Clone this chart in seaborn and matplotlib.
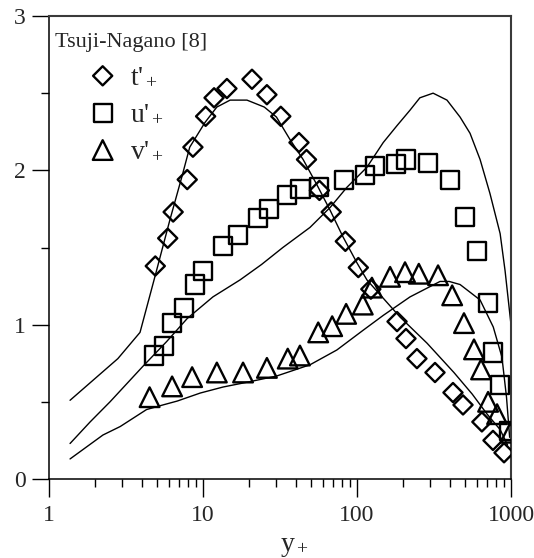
import numpy as np
import pandas as pd
import matplotlib
matplotlib.use("Agg")
import matplotlib.pyplot as plt
import matplotlib.ticker as mticker
import seaborn as sns

# Measured fluctuation intensities (Tsuji-Nagano)
t_y = [4.9, 5.9, 6.4, 7.9, 8.6, 10.4, 11.8, 14.3, 20.8, 26, 32, 42, 47, 57, 68, 84,
       102, 123, 182, 208, 245, 321, 420, 488, 647, 764, 901]
t_val = [1.38, 1.56, 1.73, 1.94, 2.15, 2.35, 2.47, 2.53, 2.59, 2.49, 2.35, 2.18, 2.07,
         1.87, 1.73, 1.54, 1.37, 1.23, 1.02, 0.91, 0.78, 0.69, 0.56, 0.48, 0.37, 0.25, 0.17]

u_y = [4.8, 5.6, 6.3, 7.5, 8.9, 10.0, 13.5, 16.9, 22.7, 26.9, 35, 43, 57, 82, 112, 131,
       178, 208, 289, 402, 503, 601, 710, 764, 850, 971]
u_val = [0.80, 0.86, 1.01, 1.11, 1.26, 1.35, 1.51, 1.58, 1.69, 1.75, 1.84, 1.88, 1.89,
         1.94, 1.97, 2.03, 2.04, 2.07, 2.05, 1.94, 1.70, 1.48, 1.14, 0.82, 0.61, 0.31]

v_y = [4.5, 6.3, 8.5, 12.3, 18.2, 26, 35.5, 42.6, 56, 69, 85, 109, 125, 164, 205, 252,
       336, 415, 495, 575, 639, 710, 812, 990]
v_val = [0.53, 0.60, 0.66, 0.69, 0.69, 0.72, 0.78, 0.80, 0.95, 0.99, 1.07, 1.13, 1.24,
         1.31, 1.34, 1.33, 1.32, 1.19, 1.01, 0.84, 0.71, 0.50, 0.42, 0.30]

# Reference curves
t_line_y = [1.37, 2.8, 3.9, 4.9, 6.1, 7.3, 8.2, 10.3, 12.3, 15, 19.3, 25, 30, 36.7, 44.7,
            55, 67, 81, 100, 116, 190, 285, 426, 560, 700, 850, 950]
t_line = [0.51, 0.78, 0.95, 1.32, 1.68, 1.96, 2.15, 2.31, 2.41, 2.455, 2.455, 2.41, 2.345,
          2.20, 2.07, 1.905, 1.74, 1.57, 1.40, 1.29, 1.05, 0.88, 0.69, 0.55, 0.42, 0.32, 0.22]

u_line_y = [1.37, 1.85, 2.49, 4.07, 5.8, 7.9, 11.6, 17.4, 24, 33, 49.5, 67, 86, 116, 148,
            182, 221, 256, 312, 384, 467, 542, 630, 730, 850, 915, 1000]
u_line = [0.23, 0.37, 0.50, 0.73, 0.89, 1.04, 1.18, 1.29, 1.39, 1.50, 1.63, 1.76, 1.89,
          2.02, 2.18, 2.29, 2.39, 2.47, 2.50, 2.455, 2.345, 2.24, 2.07, 1.85, 1.59, 1.35, 1.0]

v_line_y = [1.37, 2.24, 2.9, 4.3, 5.5, 6.8, 9.6, 13.5, 20, 30, 49.5, 74, 110, 148, 221,
            346, 397, 467, 630, 767, 873, 935, 980]
v_line = [0.13, 0.285, 0.34, 0.45, 0.48, 0.505, 0.557, 0.596, 0.63, 0.667, 0.74, 0.836,
          0.965, 1.06, 1.18, 1.28, 1.28, 1.26, 1.16, 0.985, 0.79, 0.53, 0.27]

sns.set_style("white")
plt.rcParams["font.family"] = ["Liberation Serif", "DejaVu Serif"]
plt.rcParams["mathtext.fontset"] = "custom"
plt.rcParams["mathtext.rm"] = "Liberation Serif"
plt.rcParams["mathtext.it"] = "Liberation Serif:italic"

fig = plt.figure(figsize=(5.34, 5.58), dpi=100)
ax = fig.add_axes([49 / 534, 1 - 479 / 558, (511 - 49) / 534, (479 - 16) / 558])

for xs, ys in [(t_line_y, t_line), (u_line_y, u_line), (v_line_y, v_line)]:
    sns.lineplot(x=xs, y=ys, ax=ax, color="black", linewidth=1.0,
                 sort=False, estimator=None)

marker_kw = dict(facecolor="none", edgecolor="black", linewidth=1.7, ax=ax, zorder=3)
sns.scatterplot(x=t_y, y=t_val, marker="D", s=95, label="t'$_+$", **marker_kw)
sns.scatterplot(x=u_y, y=u_val, marker="s", s=170, label="u'$_+$", **marker_kw)
sns.scatterplot(x=v_y, y=v_val, marker="^", s=200, label="v'$_+$", **marker_kw)

ax.set_xscale("log")
ax.set_xlim(1, 1000)
ax.set_ylim(0, 3)
ax.set_xticks([1, 10, 100, 1000])
ax.xaxis.set_major_formatter(mticker.FuncFormatter(lambda v, p: f"{int(round(v))}"))
ax.xaxis.set_minor_locator(mticker.LogLocator(base=10, subs=np.arange(2, 10)))
ax.xaxis.set_minor_formatter(mticker.NullFormatter())
ax.set_yticks([0, 1, 2, 3])
ax.yaxis.set_minor_locator(mticker.MultipleLocator(0.5))

ax.tick_params(axis="both", which="both", direction="out", color="black",
               width=1.0, labelsize=17, bottom=True, left=True, top=False, right=False)
ax.tick_params(axis="y", which="major", length=12, pad=5)
ax.tick_params(axis="y", which="minor", length=6)
ax.tick_params(axis="x", which="major", length=13, pad=6)
ax.tick_params(axis="x", which="minor", length=6)

for side in ["left", "bottom"]:
    ax.spines[side].set_color("black")
    ax.spines[side].set_linewidth(1.1)
for side in ["top", "right"]:
    ax.spines[side].set_color("#3a3a3a")
    ax.spines[side].set_linewidth(1.5)

ax.set_xlabel("")
ax.set_ylabel("")
ax.text((294 - 49) / 462, -0.145, "y$_+$", transform=ax.transAxes,
        ha="center", va="center", fontsize=20)

leg = ax.legend(loc="upper left", frameon=False, title="Tsuji-Nagano [8]",
                title_fontsize=16, fontsize=20, alignment="left",
                bbox_to_anchor=((86 - 49) / 462, 1 - 17 / 463),
                borderaxespad=0.0, borderpad=0.0, handletextpad=0.37,
                labelspacing=0.42, handlelength=1.2)
# pull the title back to the left edge of the plot
leg.get_title().set_position((-31, 0))

fig.savefig("out.png", dpi=100)
